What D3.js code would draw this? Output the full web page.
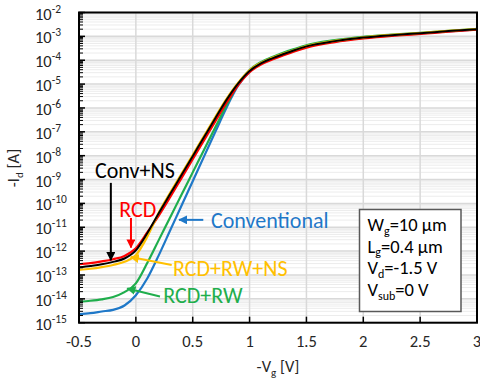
<!DOCTYPE html>
<html><head><meta charset="utf-8">
<script src="https://cdn.jsdelivr.net/npm/d3@7"></script>
<style>
html,body{margin:0;padding:0;background:#fff;}
svg{display:block;font-family:Carlito,Roboto,"Liberation Sans",sans-serif;}
</style></head>
<body><svg id="c" width="480" height="384"></svg>
<script>
// -Vg [V]
const vg = [-0.5,-0.4,-0.3,-0.2,-0.1,0,0.1,0.2,0.3,0.4,0.5,0.6,0.7,0.8,0.9,1.0,1.1,1.2,1.3,1.4,1.5,1.75,2.0,2.25,2.5,2.75,3.0];
// log10(-Id [A])
const logConventional = [-14.64,-14.6,-14.53,-14.46,-14.28,-13.85,-13.15,-12.19,-11.15,-10.11,-9.07,-8.03,-6.99,-5.96,-5.06,-4.48,-4.15,-3.93,-3.75,-3.58,-3.43,-3.21,-3.06,-2.96,-2.88,-2.79,-2.71];
const logRcdRw = [-14.12,-14.08,-14.02,-13.92,-13.72,-13.35,-12.5,-11.55,-10.6,-9.65,-8.7,-7.75,-6.8,-5.86,-4.99,-4.41,-4.08,-3.87,-3.68,-3.52,-3.37,-3.16,-3.02,-2.93,-2.85,-2.77,-2.69];
const logRcd = [-12.55,-12.5,-12.43,-12.34,-12.2,-11.88,-11.22,-10.52,-9.75,-8.95,-8.15,-7.35,-6.55,-5.76,-5.04,-4.5,-4.18,-3.97,-3.79,-3.62,-3.47,-3.24,-3.09,-2.98,-2.9,-2.8,-2.72];
const logRcdRwNs = [-12.79,-12.74,-12.67,-12.58,-12.45,-12.17,-11.4,-10.4,-9.57,-8.77,-7.97,-7.17,-6.37,-5.6,-4.94,-4.42,-4.11,-3.9,-3.72,-3.56,-3.41,-3.19,-3.04,-2.94,-2.86,-2.77,-2.69];
const logConvNs = [-12.68,-12.62,-12.55,-12.45,-12.31,-11.97,-11.25,-10.42,-9.62,-8.82,-8.02,-7.22,-6.42,-5.64,-4.97,-4.45,-4.13,-3.92,-3.74,-3.57,-3.42,-3.2,-3.05,-2.95,-2.87,-2.78,-2.70];

const seriesNames = ["Conventional","RCD+RW","RCD","RCD+RW+NS","Conv+NS"];
const seriesColors = ["#1f78c8","#1fae4c","#ff0000","#ffc000","#000000"];
const xTicks = [-0.5,0,0.5,1,1.5,2,2.5,3];
const xTickLabels = ["-0.5","0","0.5","1","1.5","2","2.5","3"];
const yExponents = [-2,-3,-4,-5,-6,-7,-8,-9,-10,-11,-12,-13,-14,-15];
const paramLines = [["W","g","=10 µm"],["L","g","=0.4 µm"],["V","d","=-1.5 V"],["V","sub","=0 V"]];

// annotations: label anchor (V, log10 I) and arrow tail->tip
const annLabels = [
  {t:"Conv+NS", v:-0.359, l:-8.6, c:"#000000"},
  {t:"RCD", v:-0.145, l:-10.23, c:"#ff0000"},
  {t:"Conventional", v:0.661, l:-10.69, c:"#1f78c8"},
  {t:"RCD+RW+NS", v:0.327, l:-12.70, c:"#ffc000"},
  {t:"RCD+RW", v:0.241, l:-13.87, c:"#1fae4c"}
];
const annArrows = [
  {v0:-0.22, l0:-9.14, v1:-0.22, l1:-12.38, c:"#000000"},
  {v0:-0.043, l0:-10.61, v1:-0.043, l1:-11.85, c:"#ff0000"},
  {v0:0.593, l0:-10.69, v1:0.38, l1:-10.69, c:"#1f78c8"},
  {v0:0.315, l0:-12.58, v1:-0.045, l1:-12.25, c:"#ffc000"},
  {v0:0.212, l0:-13.9, v1:-0.075, l1:-13.57, c:"#1fae4c"}
];

const W = 480, H = 384;
const m = {l:79, r:3, t:12.5, b:61.3};
const svg = d3.select("#c");
const x = d3.scaleLinear().domain([-0.5,3]).range([m.l, W-m.r]);
const y = d3.scaleLog().domain([1e-15,1e-2]).range([H-m.b, m.t]);

const g = svg.append("g");
// minor horizontal gridlines
const minorVals = [];
for (let e=-15; e<-2; e++) for (let k=2;k<=9;k++) minorVals.push(k*Math.pow(10,e));
g.selectAll(".mg").data(minorVals).enter().append("line")
  .attr("x1",m.l).attr("x2",W-m.r).attr("y1",d=>y(d)).attr("y2",d=>y(d))
  .attr("stroke","#ececec").attr("stroke-width",1);
// major gridlines
g.selectAll(".hg").data(yExponents).enter().append("line")
  .attr("x1",m.l).attr("x2",W-m.r).attr("y1",d=>y(Math.pow(10,d))).attr("y2",d=>y(Math.pow(10,d)))
  .attr("stroke","#d9d9d9").attr("stroke-width",1.5);
g.selectAll(".vg").data(xTicks).enter().append("line")
  .attr("y1",m.t).attr("y2",H-m.b).attr("x1",d=>x(d)).attr("x2",d=>x(d))
  .attr("stroke","#d9d9d9").attr("stroke-width",1.5);

// curves
const allLogs = [logConventional,logRcdRw,logRcd,logRcdRwNs,logConvNs];
const line = d3.line().x(d=>x(d[0])).y(d=>y(d[1])).curve(d3.curveMonotoneX);
allLogs.forEach((arr,i)=>{
  const pts = vg.map((v,j)=>[v, Math.pow(10, arr[j])]);
  g.append("path").attr("d", line(pts)).attr("fill","none")
    .attr("stroke", seriesColors[i]).attr("stroke-width", i===4?2:2.2)
    .attr("class","series").attr("data-name", seriesNames[i]);
});

// axes ticks inside
const yMajor = yExponents.map(e=>Math.pow(10,e));
g.selectAll(".ytm").data(minorVals).enter().append("line")
  .attr("x1",m.l).attr("x2",m.l+4).attr("y1",d=>y(d)).attr("y2",d=>y(d))
  .attr("stroke","#000").attr("stroke-width",1);
g.selectAll(".ytM").data(yMajor).enter().append("line")
  .attr("x1",m.l).attr("x2",m.l+6).attr("y1",d=>y(d)).attr("y2",d=>y(d))
  .attr("stroke","#000").attr("stroke-width",1.5);
g.selectAll(".xt").data(xTicks).enter().append("line")
  .attr("x1",d=>x(d)).attr("x2",d=>x(d)).attr("y1",H-m.b).attr("y2",H-m.b-6)
  .attr("stroke","#000").attr("stroke-width",1.5);

// frame
g.append("rect").attr("x",m.l).attr("y",m.t).attr("width",W-m.l-m.r).attr("height",H-m.t-m.b)
  .attr("fill","none").attr("stroke","#000").attr("stroke-width",2);

// y tick labels
const yl = svg.append("g").attr("fill","#262626").attr("font-size",16.5);
yExponents.forEach(e=>{
  const t = yl.append("text").attr("x",35).attr("y",y(Math.pow(10,e))+7);
  t.append("tspan").text("10");
  t.append("tspan").attr("dy",-7).attr("font-size",11.5).text(e);
});
// x tick labels
svg.append("g").selectAll("text").data(xTicks).enter().append("text")
  .attr("x",d=>x(d)).attr("y",H-m.b+24).attr("text-anchor","middle")
  .attr("font-size",16.5).attr("fill","#262626").text((d,i)=>xTickLabels[i]);

// axis titles
const xt = svg.append("text").attr("x",x(1.25)).attr("y",372).attr("text-anchor","middle").attr("font-size",16.5).attr("fill","#262626");
xt.append("tspan").text("-V");
xt.append("tspan").attr("dy",4).attr("font-size",11).text("g");
xt.append("tspan").attr("dy",-4).text(" [V]");
const ytl = svg.append("text").attr("transform","translate(19,168) rotate(-90)").attr("text-anchor","middle").attr("font-size",16.5).attr("fill","#262626");
ytl.append("tspan").text("-I");
ytl.append("tspan").attr("dy",4).attr("font-size",11).text("d");
ytl.append("tspan").attr("dy",-4).text(" [A]");

// arrows
const defs = svg.append("defs");
annArrows.forEach((a,i)=>{
  defs.append("marker").attr("id","ah"+i).attr("viewBox","0 0 10 10").attr("refX",9).attr("refY",5)
    .attr("markerWidth",4.5).attr("markerHeight",4.5).attr("orient","auto")
    .append("path").attr("d","M0,0L10,5L0,10z").attr("fill",a.c);
  svg.append("line").attr("x1",x(a.v0)).attr("y1",y(Math.pow(10,a.l0)))
    .attr("x2",x(a.v1)).attr("y2",y(Math.pow(10,a.l1)))
    .attr("stroke",a.c).attr("stroke-width",2).attr("marker-end","url(#ah"+i+")");
});
// annotation labels
annLabels.forEach(a=>{
  svg.append("text").attr("x",x(a.v)).attr("y",y(Math.pow(10,a.l))).attr("dy","0.35em")
    .attr("font-size",22).attr("fill",a.c).text(a.t);
});

// parameter box
svg.append("rect").attr("x",359.5).attr("y",209.5).attr("width",101.5).attr("height",102)
  .attr("fill","#fff").attr("stroke","#595959").attr("stroke-width",1.5);
paramLines.forEach((p,i)=>{
  const t = svg.append("text").attr("x",367.5).attr("y",231+i*21.7).attr("font-size",18.5).attr("fill","#000");
  t.append("tspan").text(p[0]);
  t.append("tspan").attr("dy",3.5).attr("font-size",12).text(p[1]);
  t.append("tspan").attr("dy",-3.5).text(p[2]);
});
</script></body></html>
